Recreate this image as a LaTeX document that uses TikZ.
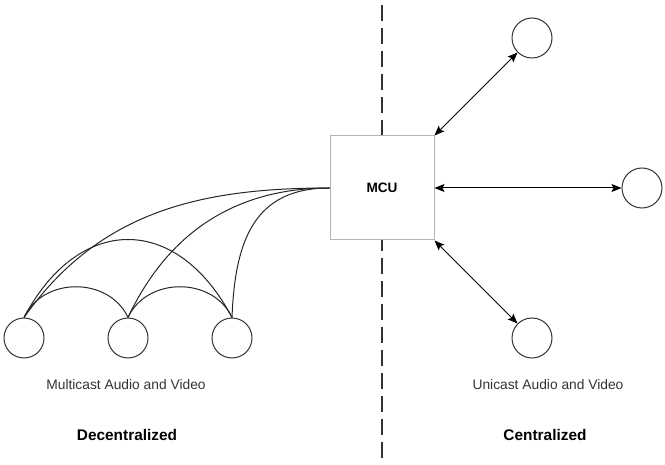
\documentclass[tikz,border=0pt]{standalone}
\usepackage{fontspec}
\setmainfont{Liberation Sans}
\usetikzlibrary{arrows.meta}
\definecolor{ink}{HTML}{333333}
\definecolor{hubline}{HTML}{B3B3B3}
\begin{document}
\begin{tikzpicture}[x=1pt,y=-1pt,
  peer/.style={circle,draw=ink,fill=white,line width=1pt,minimum size=40pt,inner sep=0pt},
  hub/.style={rectangle,draw=hubline,fill=white,line width=1pt,minimum width=104pt,minimum height=104pt,inner sep=0pt,
    font=\fontsize{13.6}{16}\selectfont\bfseries},
  caption/.style={text=ink,font=\fontsize{13.8}{16}\selectfont},
  heading/.style={text=black,font=\fontsize{15.4}{18}\selectfont\bfseries},
  divider/.style={draw=ink,line width=2pt,dash pattern=on 16pt off 7pt},
  link/.style={draw=black,line width=1pt,
    {Stealth[length=10pt,width=8pt,inset=2pt]}-{Stealth[length=10pt,width=8pt,inset=2pt]}},
  mesh/.style={draw=black!85,line width=1pt}]
\useasboundingbox (0,0) rectangle (665,465);

% dividing line between the two set-ups (drawn first, the MCU box covers it)
\coordinate (divtop) at (382,5);
\coordinate (divbot) at (382,463);
\draw[divider] (divtop) -- (divbot);

% centralized side: MCU and its endpoints
\node[hub] (mcu) at (382,188) {MCU};
\node[peer] (r1) at (532,38) {};
\node[peer] (r2) at (642,188) {};
\node[peer] (r3) at (532,338) {};
\draw[link] (mcu.north east) -- (r1);
\draw[link] (mcu.east) -- (r2);
\draw[link] (mcu.south east) -- (r3);

% decentralized side: full mesh of endpoints
\node[peer] (l1) at (24,338) {};
\node[peer] (l2) at (128,338) {};
\node[peer] (l3) at (232,338) {};
\draw[mesh] (l1.north) .. controls +(19,-41) and +(-19,-41) .. (l2.north);
\draw[mesh] (l2.north) .. controls +(19,-41) and +(-19,-41) .. (l3.north);
\draw[mesh] (l1.north) .. controls +(55,-104) and +(-55,-104) .. (l3.north);
\draw[mesh] (l1.north) .. controls +(75,-106) and +(-130,0) .. (mcu.west);
\draw[mesh] (l2.north) .. controls +(40,-85) and +(-94,0) .. (mcu.west);
\draw[mesh] (l3.north) .. controls +(3,-76) and +(-76,0) .. (mcu.west);

% captions
\node[caption] (multi) at (126,385) {Multicast Audio and Video};
\node[caption] (uni) at (548,385) {Unicast Audio and Video};
\node[heading] (dec) at (127,435) {Decentralized};
\node[heading] (cen) at (545,435) {Centralized};
\end{tikzpicture}
\end{document}
